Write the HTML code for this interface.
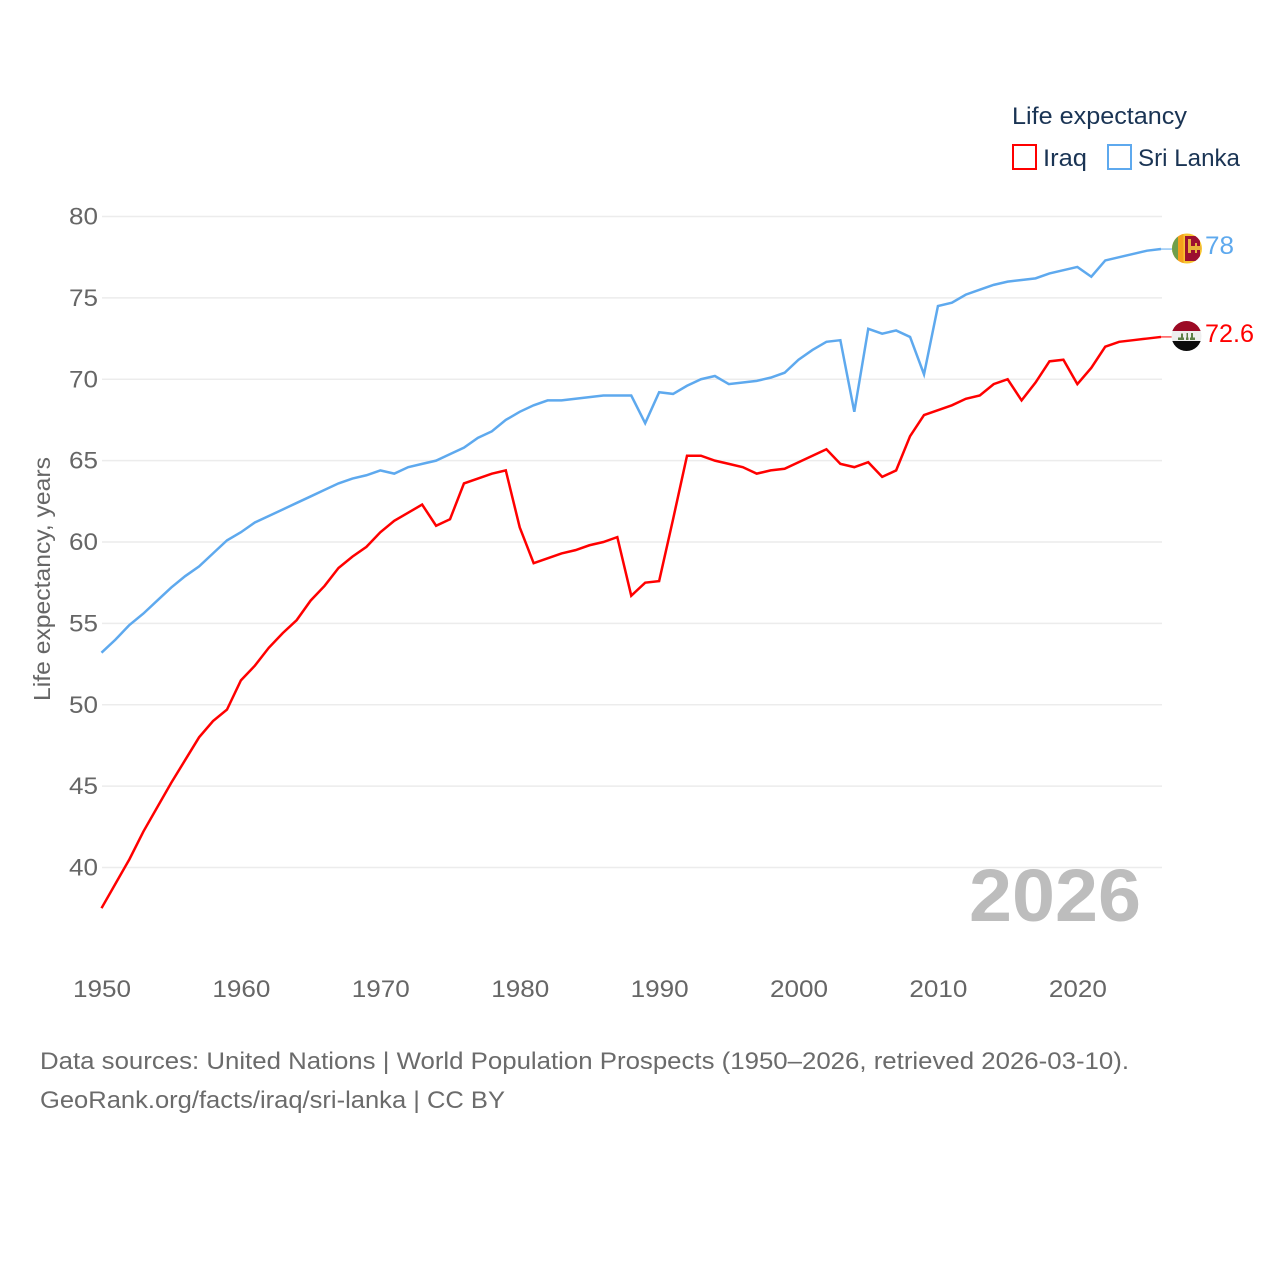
<!DOCTYPE html>
<html lang="en">
<head>
<meta charset="utf-8">
<title>Life expectancy: Iraq and Sri Lanka</title>
<style>
html,body{margin:0;padding:0;background:#fff;width:1280px;height:1280px;overflow:hidden}
svg{display:block}
text{font-family:"Liberation Sans",sans-serif}
</style>
</head>
<body>
<svg id="chart" width="1280" height="1280" viewBox="0 0 1280 1280" xmlns="http://www.w3.org/2000/svg">
  <defs>
    <clipPath id="clip-lk"><circle cx="1187" cy="248.5" r="15"/></clipPath>
    <clipPath id="clip-iq"><circle cx="1186.5" cy="336" r="15"/></clipPath>
  </defs>
  <g id="grid"></g>
  <g id="yticks"></g>
  <g id="xticks"></g>
  <text transform="translate(50,579) rotate(-90)" text-anchor="middle" font-size="23.5" fill="#666" textLength="244" lengthAdjust="spacingAndGlyphs">Life expectancy, years</text>
  <text x="969" y="921" font-size="74" font-weight="bold" fill="#bdbdbd" textLength="172" lengthAdjust="spacingAndGlyphs">2026</text>
  <g id="series"></g>

  <g>
    <text x="1012" y="124" font-size="24.5" fill="#1a3454" textLength="175" lengthAdjust="spacingAndGlyphs">Life expectancy</text>
    <g>
      <rect x="1013" y="145" width="23" height="24" fill="none" stroke="#ff0000" stroke-width="2"/>
      <text x="1043" y="166" font-size="24.5" fill="#1a3454" textLength="44" lengthAdjust="spacingAndGlyphs">Iraq</text>
    </g>
    <g>
      <rect x="1108" y="145" width="23" height="24" fill="none" stroke="#5ea9ee" stroke-width="2"/>
      <text x="1138" y="166" font-size="24.5" fill="#1a3454" textLength="102" lengthAdjust="spacingAndGlyphs">Sri Lanka</text>
    </g>
  </g>

  <g clip-path="url(#clip-lk)">
    <rect x="1172" y="233" width="30" height="31" fill="#f7c531"/>
    <rect x="1172" y="233" width="6" height="31" fill="#6f9f4a"/>
    <rect x="1178" y="233" width="5.5" height="31" fill="#f59f1c"/>
    <rect x="1185" y="236" width="15" height="25" fill="#9c1030"/>
    <rect x="1188" y="239" width="3" height="14" fill="#e8b23a"/>
    <rect x="1190" y="246" width="11" height="4" fill="#e8b23a"/>
    <rect x="1195" y="243" width="2" height="10" fill="#e8b23a"/>
  </g>
  <g clip-path="url(#clip-iq)">
    <rect x="1171" y="321" width="31" height="10" fill="#9c0a24"/>
    <rect x="1171" y="331" width="31" height="10" fill="#eeeeee"/>
    <rect x="1171" y="341" width="31" height="10" fill="#0b0b0b"/>
    <rect x="1178" y="337.5" width="6" height="2.5" fill="#5d7f45"/>
    <rect x="1186" y="337.5" width="2.5" height="2.5" fill="#5d7f45"/>
    <rect x="1190" y="337.5" width="5" height="2.5" fill="#5d7f45"/>
    <rect x="1181" y="333.5" width="2" height="5" fill="#5d7f45"/>
    <rect x="1186.5" y="333" width="1.5" height="6" fill="#5d7f45"/>
    <rect x="1191" y="333" width="2" height="6" fill="#5d7f45"/>
  </g>

  <text x="1205" y="254" font-size="25" fill="#5ea9ee" textLength="29" lengthAdjust="spacingAndGlyphs">78</text>
  <text x="1205" y="342" font-size="25" fill="#ff0000" textLength="49" lengthAdjust="spacingAndGlyphs">72.6</text>

  <text x="40" y="1069" font-size="24.5" fill="#6b6b6b" textLength="1089" lengthAdjust="spacingAndGlyphs">Data sources: United Nations | World Population Prospects (1950–2026, retrieved 2026-03-10).</text>
  <text x="40" y="1108" font-size="24.5" fill="#6b6b6b" textLength="465" lengthAdjust="spacingAndGlyphs">GeoRank.org/facts/iraq/sri-lanka | CC BY</text>
</svg>
<script>
const startYear = 1950;
const yTickLabels = [40, 45, 50, 55, 60, 65, 70, 75, 80];
const xTickLabels = [1950, 1960, 1970, 1980, 1990, 2000, 2010, 2020];
const iraqValues = [37.5,39.0,40.5,42.2,43.7,45.2,46.6,48.0,49.0,49.7,51.5,52.4,53.5,54.4,55.2,56.4,57.3,58.4,59.1,59.7,60.6,61.3,61.8,62.3,61.0,61.4,63.6,63.9,64.2,64.4,60.9,58.7,59.0,59.3,59.5,59.8,60.0,60.3,56.7,57.5,57.6,61.4,65.3,65.3,65.0,64.8,64.6,64.2,64.4,64.5,64.9,65.3,65.7,64.8,64.6,64.9,64.0,64.4,66.5,67.8,68.1,68.4,68.8,69.0,69.7,70.0,68.7,69.8,71.1,71.2,69.7,70.7,72.0,72.3,72.4,72.5,72.6];
const sriLankaValues = [53.2,54.0,54.9,55.6,56.4,57.2,57.9,58.5,59.3,60.1,60.6,61.2,61.6,62.0,62.4,62.8,63.2,63.6,63.9,64.1,64.4,64.2,64.6,64.8,65.0,65.4,65.8,66.4,66.8,67.5,68.0,68.4,68.7,68.7,68.8,68.9,69.0,69.0,69.0,67.3,69.2,69.1,69.6,70.0,70.2,69.7,69.8,69.9,70.1,70.4,71.2,71.8,72.3,72.4,68.0,73.1,72.8,73.0,72.6,70.3,74.5,74.7,75.2,75.5,75.8,76.0,76.1,76.2,76.5,76.7,76.9,76.3,77.3,77.5,77.7,77.9,78.0];

const NS = 'http://www.w3.org/2000/svg';
function xScale(year) { return 101.5 + (year - 1950) * (1161 - 101.5) / 76; }
function yScale(v) { return 216.5 + (80 - v) * (867.5 - 216.5) / 40; }

const grid = document.getElementById('grid');
const yticks = document.getElementById('yticks');
const xticks = document.getElementById('xticks');
const series = document.getElementById('series');

yTickLabels.forEach(function (v) {
  const line = document.createElementNS(NS, 'line');
  
  
  line.setAttribute('x1', 102);
  line.setAttribute('x2', 1162);
  line.setAttribute('y1', yScale(v));
  line.setAttribute('y2', yScale(v));
  line.setAttribute('stroke', '#ececec');
  line.setAttribute('stroke-width', '1.5');
  grid.appendChild(line);

  const t = document.createElementNS(NS, 'text');
  
  
  t.setAttribute('x', 98);
  t.setAttribute('y', yScale(v) + 8);
  t.setAttribute('text-anchor', 'end');
  t.setAttribute('font-size', '24.5');
  t.setAttribute('fill', '#666');
  t.setAttribute('textLength', '29');
  t.setAttribute('lengthAdjust', 'spacingAndGlyphs');
  t.textContent = v;
  yticks.appendChild(t);
});

xTickLabels.forEach(function (yr) {
  const t = document.createElementNS(NS, 'text');
  
  
  t.setAttribute('x', xScale(yr) + 0.5);
  t.setAttribute('y', 997);
  t.setAttribute('text-anchor', 'middle');
  t.setAttribute('font-size', '24.5');
  t.setAttribute('fill', '#666');
  t.setAttribute('textLength', '58');
  t.setAttribute('lengthAdjust', 'spacingAndGlyphs');
  t.textContent = yr;
  xticks.appendChild(t);
});

function linePoints(values) {
  return values.map(function (v, i) {
    return xScale(startYear + i).toFixed(2) + ',' + yScale(v).toFixed(2);
  }).join(' ');
}

const lineLk = document.createElementNS(NS, 'polyline');


lineLk.setAttribute('points', linePoints(sriLankaValues));
lineLk.setAttribute('fill', 'none');
lineLk.setAttribute('stroke', '#5ea9ee');
lineLk.setAttribute('stroke-width', '2.5');
lineLk.setAttribute('stroke-linejoin', 'miter');
series.appendChild(lineLk);

const lineIq = document.createElementNS(NS, 'polyline');


lineIq.setAttribute('points', linePoints(iraqValues));
lineIq.setAttribute('fill', 'none');
lineIq.setAttribute('stroke', '#ff0000');
lineIq.setAttribute('stroke-width', '2.5');
lineIq.setAttribute('stroke-linejoin', 'miter');
series.appendChild(lineIq);

const connLk = document.createElementNS(NS, 'line');


connLk.setAttribute('x1', 1161);
connLk.setAttribute('x2', 1172);
connLk.setAttribute('y1', yScale(sriLankaValues[sriLankaValues.length - 1]));
connLk.setAttribute('y2', yScale(sriLankaValues[sriLankaValues.length - 1]));
connLk.setAttribute('stroke', '#5ea9ee');
connLk.setAttribute('stroke-width', '1');
series.appendChild(connLk);

const connIq = document.createElementNS(NS, 'line');


connIq.setAttribute('x1', 1161);
connIq.setAttribute('x2', 1172);
connIq.setAttribute('y1', yScale(iraqValues[iraqValues.length - 1]));
connIq.setAttribute('y2', yScale(iraqValues[iraqValues.length - 1]));
connIq.setAttribute('stroke', '#ff0000');
connIq.setAttribute('stroke-width', '1');
series.appendChild(connIq);
</script>
</body>
</html>
